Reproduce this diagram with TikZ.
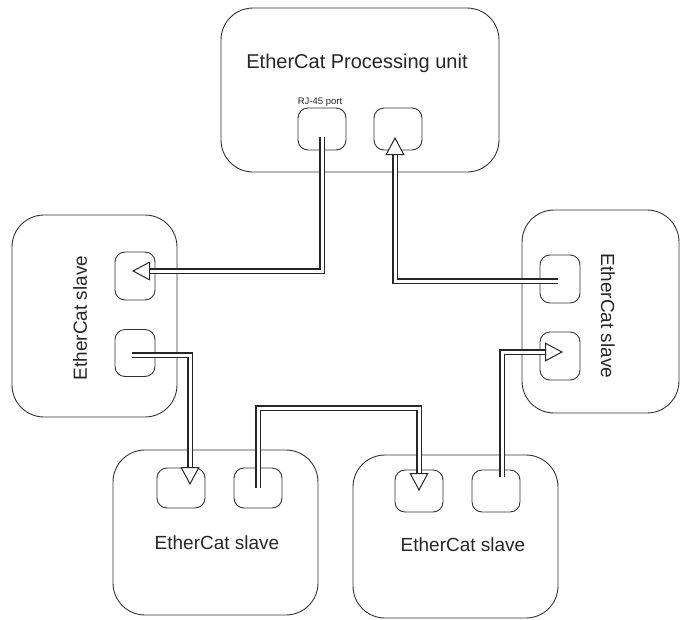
\documentclass[tikz,border=0pt]{standalone}
\usepackage{fontspec}
\setmainfont{Liberation Sans}
\usetikzlibrary{arrows.meta, calc}

% one cable = dark outer stroke + white core
\newcommand{\cable}[1]{\draw[cableout] #1; \draw[cablein] #1;}

\begin{document}
\begin{tikzpicture}[x=1pt,y=-1pt,
  every node/.style={font=\fontsize{19}{22}\selectfont, text=black!85},
  unitbox/.style={draw=black!80, line width=0.9pt, rounded corners=32pt, inner sep=0pt},
  portbox/.style={draw=black!80, line width=0.9pt, rounded corners=10pt, inner sep=0pt,
    minimum width=48pt, minimum height=42pt},
  cableout/.style={draw=black!85, line width=6pt, shorten >=12pt},
  cablein/.style={draw=white, line width=3pt,
    -{Triangle[length=18pt 0, width=19pt 0, line width=1pt 0, color=black!85, fill=white]}}]
  \useasboundingbox (0,0) rectangle (680,619);

    % boxes
    \node[unitbox, minimum width=278pt, minimum height=164pt] (unit)    at (360,90)     {};
    \node[unitbox, minimum width=165pt, minimum height=202pt] (lslave)  at (94.5,316)   {};
    \node[unitbox, minimum width=157pt, minimum height=203pt] (rslave)  at (600.5,311.5){};
    \node[unitbox, minimum width=205pt, minimum height=165pt] (blslave) at (215.5,532.5){};
    \node[unitbox, minimum width=205pt, minimum height=163pt] (brslave) at (455.5,536.5){};

    % labels
    \node[font=\fontsize{20}{24}\selectfont] (unittext) at (357,63) {EtherCat Processing unit};
    \node[font=\fontsize{9.5}{11}\selectfont] (rj45) at (320,102) {RJ-45 port};
    \node[rotate=90]  (ltext)  at (80,318)  {EtherCat slave};
    \node[rotate=-90] (rtext)  at (608,316) {EtherCat slave};
    \node (bltext) at (217,543) {EtherCat slave};
    \node (brtext) at (463,545) {EtherCat slave};

    % ports
    \node[portbox] (p1) at (322,129) {};
    \node[portbox] (p2) at (398,129) {};
    \node[portbox, minimum width=40pt, minimum height=48pt] (pA) at (135,276) {};
    \node[portbox, minimum width=40pt, minimum height=47pt] (pB) at (135,353) {};
    \node[portbox, minimum width=40pt, minimum height=48pt] (pC) at (560,279) {};
    \node[portbox, minimum width=40pt, minimum height=48pt] (pD) at (560,356) {};
    \node[portbox, minimum height=40pt] (pE) at (181,488) {};
    \node[portbox, minimum height=40pt] (pF) at (258,488) {};
    \node[portbox] (pG) at (419,491) {};
    \node[portbox] (pH) at (496,491) {};

    % cables
    \cable{($(p1.center)+(0,8)$) |- ($(pA.center)+(-3,-5)$)}
    \cable{($(pC.center)+(-2,2)$) -| ($(p2.center)+(-3,8)$)}
    \cable{($(pB.center)+(-3,2)$) -| ($(pE.center)+(9,-3)$)}
    \cable{(pF.center) -- ++(0,-80) -| (pG.center)}
    \cable{($(pH.center)+(6,-14)$) |- ($(pD.center)+(3,-4)$)}
\end{tikzpicture}
\end{document}
